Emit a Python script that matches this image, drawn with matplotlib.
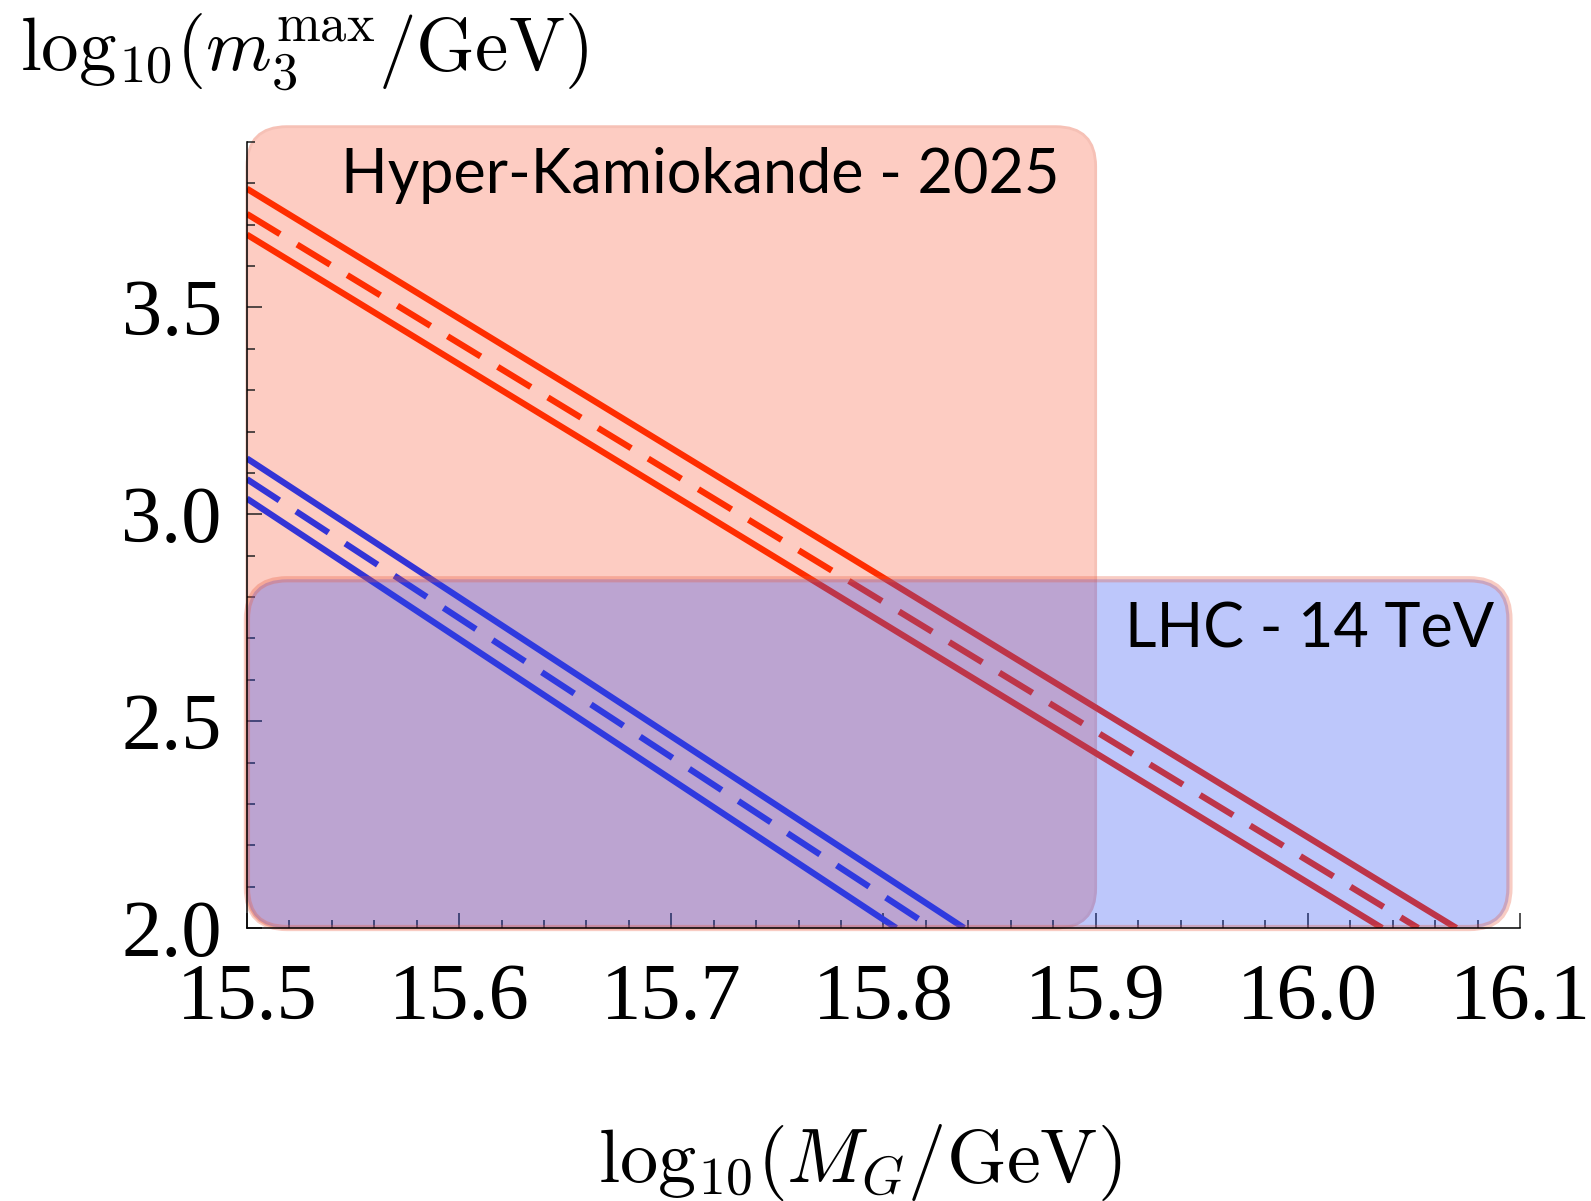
"""Upper bound on m3 vs GUT scale, with Hyper-K and LHC reach boxes."""

import numpy as np
import matplotlib
matplotlib.use("Agg")
import matplotlib.pyplot as plt
from matplotlib.patches import FancyBboxPatch
from matplotlib.ticker import MultipleLocator, FormatStrFormatter

plt.rcParams["mathtext.fontset"] = "cm"
plt.rcParams["font.family"] = ["Liberation Serif", "DejaVu Serif"]

# line end points (x = log10 M_G, y = log10 m3max)
red_upper_x = [15.5, 16.070]
red_upper_y = [3.787, 2.0]
red_mid_x = [15.5, 16.052]
red_mid_y = [3.726, 2.0]
red_lower_x = [15.5, 16.035]
red_lower_y = [3.676, 2.0]

blue_upper_x = [15.5, 15.838]
blue_upper_y = [3.135, 2.0]
blue_mid_x = [15.5, 15.823]
blue_mid_y = [3.085, 2.0]
blue_lower_x = [15.5, 15.806]
blue_lower_y = [3.038, 2.0]

# experimental reach boxes
hk_x = [15.5, 15.9]
hk_y = [2.0, 3.937]
lhc_x = [15.5, 16.095]
lhc_y = [2.0, 2.843]

x_ticks = [15.5, 15.6, 15.7, 15.8, 15.9, 16.0, 16.1]
y_ticks = [2.0, 2.5, 3.0, 3.5]

RED = "#ff2d00"
BLUE = "#3434d6"

fig = plt.figure(figsize=(15.91, 12.01), dpi=100)
ax = fig.add_axes([0.1552, 0.2273, 0.8002, 0.6545])
ax.set_xlim(15.5, 16.1)
ax.set_ylim(2.0, 3.9)

# aspect so the box corners come out round on screen
fig.canvas.draw()
bb = ax.get_window_extent()
aspect = (bb.width / 0.6) / (bb.height / 1.9)
rad = 40 / (bb.width / 0.6)

hk = FancyBboxPatch((hk_x[0], hk_y[0]), hk_x[1] - hk_x[0], hk_y[1] - hk_y[0],
                    boxstyle=f"round,pad=0,rounding_size={rad}",
                    mutation_aspect=aspect, fc="#fdccc2", ec="#f6c1b6",
                    lw=2, clip_on=False, zorder=1)
ax.add_patch(hk)

kw = dict(lw=4.5, solid_capstyle="butt", dash_capstyle="butt", zorder=2)
ax.plot(red_upper_x, red_upper_y, color=RED, **kw)
ax.plot(red_mid_x, red_mid_y, color=RED, dashes=(6.2, 3.2), **kw)
ax.plot(red_lower_x, red_lower_y, color=RED, **kw)
ax.plot(blue_upper_x, blue_upper_y, color=BLUE, **kw)
ax.plot(blue_mid_x, blue_mid_y, color=BLUE, dashes=(6.2, 3.2), **kw)
ax.plot(blue_lower_x, blue_lower_y, color=BLUE, **kw)

lhc = FancyBboxPatch((lhc_x[0], lhc_y[0]), lhc_x[1] - lhc_x[0], lhc_y[1] - lhc_y[0],
                     boxstyle=f"round,pad=0,rounding_size={rad}",
                     mutation_aspect=aspect, fc="#2648f5", ec="#e8573a",
                     lw=4.5, alpha=0.3, clip_on=False, zorder=3)
ax.add_patch(lhc)

ax.text(15.5445, 3.777, "Hyper-Kamiokande - 2025", family=["Lato", "DejaVu Sans"],
        fontsize=44, ha="left", va="baseline", color="black", zorder=4)
ax.text(16.088, 2.678, "LHC - 14 TeV", family=["Lato", "DejaVu Sans"],
        fontsize=44, ha="right", va="baseline", color="black", zorder=4)

for side in ["top", "right"]:
    ax.spines[side].set_visible(False)
for side in ["left", "bottom"]:
    ax.spines[side].set_linewidth(1.1)
    ax.spines[side].set_zorder(5)

ax.set_xticks(x_ticks)
ax.set_yticks(y_ticks)
ax.xaxis.set_minor_locator(MultipleLocator(0.02))
ax.yaxis.set_minor_locator(MultipleLocator(0.1))
ax.xaxis.set_major_formatter(FormatStrFormatter("%.1f"))
ax.yaxis.set_major_formatter(FormatStrFormatter("%.1f"))
ax.tick_params(which="both", direction="in", color="#222222", width=1.1,
               labelsize=58, top=False, right=False)
ax.tick_params(which="major", length=11)
ax.tick_params(which="minor", length=5.5)
ax.tick_params(axis="x", pad=25)
ax.tick_params(axis="y", pad=18)

fig.text(20 / 1591, 1 - 71 / 1201, r"$\mathrm{log}_{10}(m_3^{\max}/\mathrm{GeV})$",
         fontsize=54, ha="left", va="baseline")
fig.text(860 / 1591, 1 - 1182 / 1201, r"$\mathrm{log}_{10}(M_G/\mathrm{GeV})$",
         fontsize=55, ha="center", va="baseline")

fig.savefig("out.png", dpi=100)
